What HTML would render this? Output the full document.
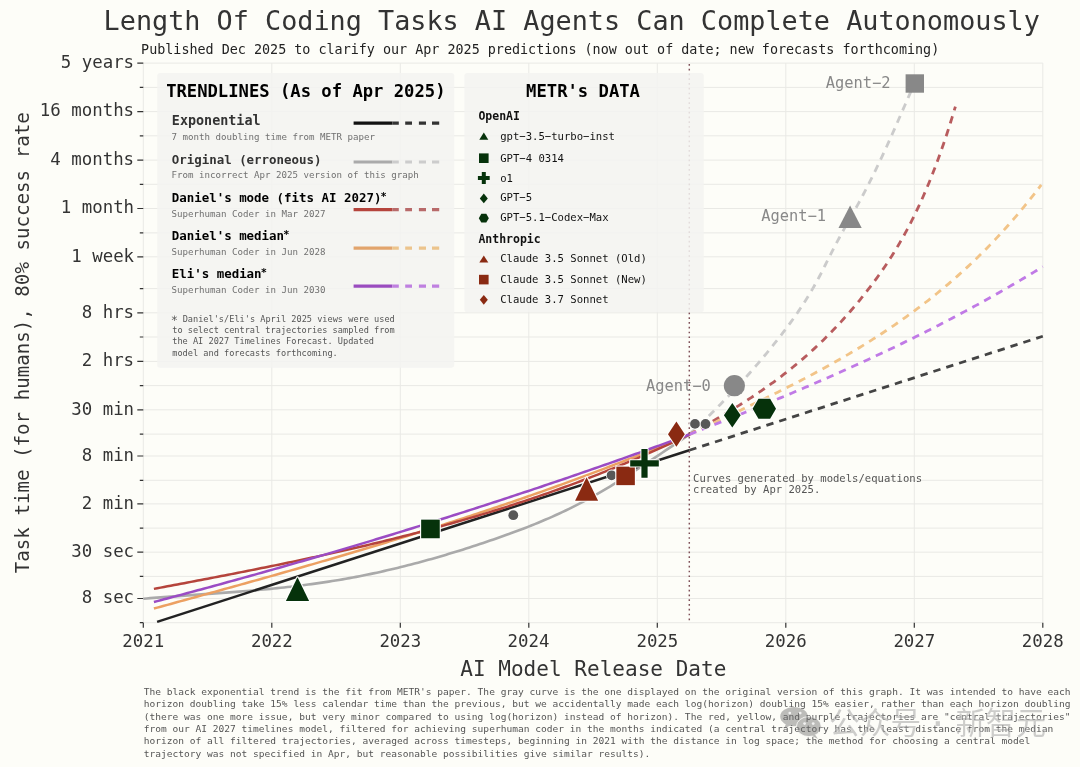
<!DOCTYPE html><html><head><meta charset="utf-8"><style>html,body{margin:0;padding:0;background:#fdfdf8;overflow:hidden}svg{display:block}text{font-family:'DejaVu Sans Mono', 'Liberation Mono', monospace;}</style></head><body>
<svg width="1080" height="767" viewBox="0 0 1080 767">
<rect width="1080" height="767" fill="#fdfdf8"/>
<path d="M143.30 63.10V622.70M271.80 63.10V622.70M400.30 63.10V622.70M528.80 63.10V622.70M657.30 63.10V622.70M785.80 63.10V622.70M914.30 63.10V622.70M1042.80 63.10V622.70M143.30 63.10H1042.80M143.30 111.60H1042.80M143.30 160.10H1042.80M143.30 208.50H1042.80M143.30 256.80H1042.80M143.30 312.80H1042.80M143.30 361.40H1042.80M143.30 409.80H1042.80M143.30 456.00H1042.80M143.30 503.90H1042.80M143.30 552.20H1042.80M143.30 598.50H1042.80M143.30 87.40H1042.80M143.30 135.80H1042.80M143.30 184.30H1042.80M143.30 232.90H1042.80M143.30 288.60H1042.80M143.30 337.00H1042.80M143.30 385.60H1042.80M143.30 434.10H1042.80M143.30 480.30H1042.80M143.30 528.10H1042.80M143.30 576.40H1042.80M143.30 622.70H1042.80" stroke="#e9e9e5" stroke-width="1" fill="none"/>
<path d="M137.30 63.10H143.30M137.30 111.60H143.30M137.30 160.10H143.30M137.30 208.50H143.30M137.30 256.80H143.30M137.30 312.80H143.30M137.30 361.40H143.30M137.30 409.80H143.30M137.30 456.00H143.30M137.30 503.90H143.30M137.30 552.20H143.30M137.30 598.50H143.30M139.80 87.40H143.30M139.80 135.80H143.30M139.80 184.30H143.30M139.80 232.90H143.30M139.80 288.60H143.30M139.80 337.00H143.30M139.80 385.60H143.30M139.80 434.10H143.30M139.80 480.30H143.30M139.80 528.10H143.30M139.80 576.40H143.30M139.80 622.70H143.30M143.30 622.70V627.70M271.80 622.70V627.70M400.30 622.70V627.70M528.80 622.70V627.70M657.30 622.70V627.70M785.80 622.70V627.70M914.30 622.70V627.70M1042.80 622.70V627.70" stroke="#333" stroke-width="1.2" fill="none"/>
<text x="134.10" y="67.90" font-size="17.4" fill="#333" text-anchor="end">5 years</text>
<text x="134.10" y="116.40" font-size="17.4" fill="#333" text-anchor="end">16 months</text>
<text x="134.10" y="164.90" font-size="17.4" fill="#333" text-anchor="end">4 months</text>
<text x="134.10" y="213.30" font-size="17.4" fill="#333" text-anchor="end">1 month</text>
<text x="134.10" y="261.60" font-size="17.4" fill="#333" text-anchor="end">1 week</text>
<text x="134.10" y="317.60" font-size="17.4" fill="#333" text-anchor="end">8 hrs</text>
<text x="134.10" y="366.20" font-size="17.4" fill="#333" text-anchor="end">2 hrs</text>
<text x="134.10" y="414.60" font-size="17.4" fill="#333" text-anchor="end">30 min</text>
<text x="134.10" y="460.80" font-size="17.4" fill="#333" text-anchor="end">8 min</text>
<text x="134.10" y="508.70" font-size="17.4" fill="#333" text-anchor="end">2 min</text>
<text x="134.10" y="557.00" font-size="17.4" fill="#333" text-anchor="end">30 sec</text>
<text x="134.10" y="603.30" font-size="17.4" fill="#333" text-anchor="end">8 sec</text>
<text x="122.29" y="647.00" font-size="17.4" fill="#333">2021</text>
<text x="250.92" y="647.00" font-size="17.4" fill="#333">2022</text>
<text x="379.38" y="647.00" font-size="17.4" fill="#333">2023</text>
<text x="507.62" y="647.00" font-size="17.4" fill="#333">2024</text>
<text x="636.42" y="647.00" font-size="17.4" fill="#333">2025</text>
<text x="764.75" y="647.00" font-size="17.4" fill="#333">2026</text>
<text x="893.38" y="647.00" font-size="17.4" fill="#333">2027</text>
<text x="1021.75" y="647.00" font-size="17.4" fill="#333">2028</text>
<text x="103.60" y="30.00" font-size="26.82" fill="#333">Length Of Coding Tasks AI Agents Can Complete Autonomously</text>
<text x="141.12" y="54.00" font-size="13.4" fill="#222">Published Dec 2025 to clarify our Apr 2025 predictions (now out of date; new forecasts forthcoming)</text>
<text x="460.28" y="675.50" font-size="21.05" fill="#333">AI Model Release Date</text>
<text transform="translate(29.2 342.75) rotate(-90)" font-size="19.15" fill="#333" text-anchor="middle">Task time (for humans), 80% success rate</text>
<path d="M689.30 434.50 L690.70 433.20 L692.10 431.89 L693.50 430.58 L694.90 429.26 L696.30 427.94 L697.70 426.62 L699.10 425.29 L700.51 423.95 L701.91 422.61 L703.31 421.26 L704.71 419.91 L706.11 418.55 L707.51 417.19 L708.91 415.82 L710.31 414.45 L711.71 413.07 L713.11 411.68 L714.51 410.29 L715.91 408.89 L717.31 407.49 L718.71 406.08 L720.11 404.66 L721.51 403.24 L722.92 401.81 L724.32 400.37 L725.72 398.92 L727.12 397.47 L728.52 396.01 L729.92 394.55 L731.32 393.08 L732.72 391.60 L734.12 390.11 L735.52 388.61 L736.92 387.11 L738.32 385.60 L739.72 384.08 L741.12 382.55 L742.52 381.01 L743.92 379.47 L745.33 377.92 L746.73 376.36 L748.13 374.79 L749.53 373.21 L750.93 371.62 L752.33 370.03 L753.73 368.42 L755.13 366.81 L756.53 365.19 L757.93 363.55 L759.33 361.91 L760.73 360.26 L762.13 358.60 L763.53 356.93 L764.93 355.25 L766.33 353.56 L767.74 351.86 L769.14 350.15 L770.54 348.43 L771.94 346.70 L773.34 344.95 L774.74 343.20 L776.14 341.44 L777.54 339.67 L778.94 337.88 L780.34 336.08 L781.74 334.28 L783.14 332.45 L784.54 330.61 L785.94 328.76 L787.34 326.89 L788.74 325.00 L790.15 323.09 L791.55 321.16 L792.95 319.20 L794.35 317.23 L795.75 315.23 L797.15 313.20 L798.55 311.15 L799.95 309.07 L801.35 306.96 L802.75 304.82 L804.15 302.65 L805.55 300.44 L806.95 298.20 L808.35 295.93 L809.75 293.61 L811.15 291.26 L812.56 288.87 L813.96 286.43 L815.36 283.95 L816.76 281.42 L818.16 278.85 L819.56 276.22 L820.96 273.55 L822.36 270.82 L823.76 268.05 L825.16 265.25 L826.56 262.43 L827.96 259.62 L829.36 256.82 L830.76 254.03 L832.16 251.28 L833.56 248.56 L834.97 245.88 L836.37 243.24 L837.77 240.62 L839.17 238.04 L840.57 235.48 L841.97 232.94 L843.37 230.42 L844.77 227.91 L846.17 225.41 L847.57 222.92 L848.97 220.43 L850.37 217.95 L851.77 215.46 L853.17 212.96 L854.57 210.45 L855.97 207.93 L857.38 205.39 L858.78 202.83 L860.18 200.25 L861.58 197.64 L862.98 195.00 L864.38 192.33 L865.78 189.64 L867.18 186.93 L868.58 184.19 L869.98 181.42 L871.38 178.62 L872.78 175.81 L874.18 172.96 L875.58 170.09 L876.98 167.20 L878.38 164.28 L879.79 161.34 L881.19 158.37 L882.59 155.38 L883.99 152.36 L885.39 149.32 L886.79 146.26 L888.19 143.17 L889.59 140.06 L890.99 136.93 L892.39 133.78 L893.79 130.61 L895.19 127.42 L896.59 124.22 L897.99 121.02 L899.39 117.81 L900.79 114.59 L902.20 111.37 L903.60 108.15 L905.00 104.94 L906.40 101.73 L907.80 98.53 L909.20 95.34 L910.60 92.17 L912.00 89.01" stroke="#cbcbcb" stroke-width="2.8" fill="none" stroke-dasharray="7.4,6.1"/>
<path d="M689.30 434.50 L690.97 433.56 L692.65 432.61 L694.32 431.67 L695.99 430.72 L697.67 429.77 L699.34 428.82 L701.02 427.87 L702.69 426.92 L704.36 425.97 L706.04 425.01 L707.71 424.05 L709.38 423.09 L711.06 422.12 L712.73 421.15 L714.40 420.18 L716.08 419.21 L717.75 418.23 L719.42 417.25 L721.10 416.26 L722.77 415.27 L724.45 414.27 L726.12 413.27 L727.79 412.27 L729.47 411.26 L731.14 410.24 L732.81 409.22 L734.49 408.19 L736.16 407.16 L737.83 406.12 L739.51 405.08 L741.18 404.02 L742.85 402.96 L744.53 401.90 L746.20 400.83 L747.88 399.74 L749.55 398.66 L751.22 397.56 L752.90 396.46 L754.57 395.34 L756.24 394.22 L757.92 393.09 L759.59 391.96 L761.26 390.81 L762.94 389.65 L764.61 388.49 L766.28 387.31 L767.96 386.13 L769.63 384.93 L771.31 383.73 L772.98 382.51 L774.65 381.28 L776.33 380.05 L778.00 378.80 L779.67 377.54 L781.35 376.27 L783.02 374.98 L784.69 373.69 L786.37 372.38 L788.04 371.06 L789.72 369.73 L791.39 368.38 L793.06 367.03 L794.74 365.66 L796.41 364.27 L798.08 362.87 L799.76 361.46 L801.43 360.04 L803.10 358.60 L804.78 357.14 L806.45 355.68 L808.12 354.19 L809.80 352.69 L811.47 351.18 L813.15 349.65 L814.82 348.11 L816.49 346.55 L818.17 344.97 L819.84 343.38 L821.51 341.77 L823.19 340.14 L824.86 338.50 L826.53 336.84 L828.21 335.17 L829.88 333.47 L831.55 331.76 L833.23 330.03 L834.90 328.29 L836.58 326.52 L838.25 324.74 L839.92 322.93 L841.60 321.11 L843.27 319.27 L844.94 317.41 L846.62 315.53 L848.29 313.63 L849.96 311.71 L851.64 309.77 L853.31 307.81 L854.98 305.83 L856.66 303.83 L858.33 301.81 L860.01 299.77 L861.68 297.71 L863.35 295.62 L865.03 293.51 L866.70 291.38 L868.37 289.23 L870.05 287.06 L871.72 284.86 L873.39 282.64 L875.07 280.38 L876.74 278.10 L878.42 275.79 L880.09 273.44 L881.76 271.06 L883.44 268.65 L885.11 266.19 L886.78 263.70 L888.46 261.17 L890.13 258.59 L891.80 255.97 L893.48 253.30 L895.15 250.59 L896.82 247.82 L898.50 245.01 L900.17 242.14 L901.85 239.21 L903.52 236.24 L905.19 233.20 L906.87 230.10 L908.54 226.94 L910.21 223.72 L911.89 220.44 L913.56 217.09 L915.23 213.67 L916.91 210.18 L918.58 206.62 L920.25 202.98 L921.93 199.28 L923.60 195.49 L925.28 191.63 L926.95 187.69 L928.62 183.67 L930.30 179.56 L931.97 175.37 L933.64 171.09 L935.32 166.72 L936.99 162.26 L938.66 157.71 L940.34 153.06 L942.01 148.31 L943.68 143.46 L945.36 138.51 L947.03 133.45 L948.71 128.29 L950.38 123.02 L952.05 117.64 L953.73 112.14 L955.40 106.53" stroke="#b85c5e" stroke-width="2.8" fill="none" stroke-dasharray="7.4,6.1"/>
<path d="M689.30 434.50 L691.51 433.45 L693.73 432.39 L695.94 431.34 L698.15 430.29 L700.37 429.24 L702.58 428.19 L704.79 427.14 L707.01 426.09 L709.22 425.05 L711.43 424.00 L713.65 422.95 L715.86 421.91 L718.07 420.86 L720.28 419.82 L722.50 418.77 L724.71 417.73 L726.92 416.68 L729.14 415.64 L731.35 414.59 L733.56 413.54 L735.78 412.49 L737.99 411.44 L740.20 410.39 L742.42 409.34 L744.63 408.28 L746.84 407.22 L749.06 406.17 L751.27 405.11 L753.48 404.04 L755.70 402.98 L757.91 401.91 L760.12 400.84 L762.34 399.76 L764.55 398.69 L766.76 397.61 L768.98 396.53 L771.19 395.44 L773.40 394.35 L775.62 393.26 L777.83 392.16 L780.04 391.06 L782.25 389.95 L784.47 388.84 L786.68 387.73 L788.89 386.61 L791.11 385.48 L793.32 384.36 L795.53 383.22 L797.75 382.08 L799.96 380.94 L802.17 379.79 L804.39 378.63 L806.60 377.47 L808.81 376.30 L811.03 375.13 L813.24 373.95 L815.45 372.76 L817.67 371.57 L819.88 370.37 L822.09 369.17 L824.31 367.95 L826.52 366.73 L828.73 365.51 L830.95 364.27 L833.16 363.03 L835.37 361.78 L837.58 360.52 L839.80 359.25 L842.01 357.98 L844.22 356.70 L846.44 355.40 L848.65 354.10 L850.86 352.80 L853.08 351.48 L855.29 350.15 L857.50 348.82 L859.72 347.47 L861.93 346.12 L864.14 344.75 L866.36 343.38 L868.57 341.99 L870.78 340.60 L873.00 339.19 L875.21 337.78 L877.42 336.35 L879.64 334.92 L881.85 333.47 L884.06 332.01 L886.28 330.54 L888.49 329.06 L890.70 327.57 L892.92 326.07 L895.13 324.55 L897.34 323.02 L899.55 321.48 L901.77 319.93 L903.98 318.37 L906.19 316.79 L908.41 315.20 L910.62 313.60 L912.83 311.99 L915.05 310.36 L917.26 308.71 L919.47 307.06 L921.69 305.38 L923.90 303.70 L926.11 301.99 L928.33 300.28 L930.54 298.54 L932.75 296.79 L934.97 295.03 L937.18 293.24 L939.39 291.44 L941.61 289.62 L943.82 287.79 L946.03 285.94 L948.25 284.06 L950.46 282.17 L952.67 280.27 L954.88 278.34 L957.10 276.39 L959.31 274.42 L961.52 272.43 L963.74 270.43 L965.95 268.40 L968.16 266.35 L970.38 264.28 L972.59 262.18 L974.80 260.07 L977.02 257.93 L979.23 255.77 L981.44 253.59 L983.66 251.38 L985.87 249.15 L988.08 246.90 L990.30 244.62 L992.51 242.32 L994.72 240.00 L996.94 237.64 L999.15 235.27 L1001.36 232.87 L1003.58 230.44 L1005.79 227.98 L1008.00 225.50 L1010.22 222.99 L1012.43 220.46 L1014.64 217.90 L1016.85 215.31 L1019.07 212.69 L1021.28 210.04 L1023.49 207.37 L1025.71 204.66 L1027.92 201.93 L1030.13 199.17 L1032.35 196.37 L1034.56 193.55 L1036.77 190.70 L1038.99 187.81 L1041.20 184.90" stroke="#f2c488" stroke-width="2.8" fill="none" stroke-dasharray="7.4,6.1"/>
<path d="M689.30 434.50 L691.52 433.63 L693.75 432.76 L695.97 431.89 L698.19 431.01 L700.42 430.14 L702.64 429.27 L704.86 428.39 L707.09 427.51 L709.31 426.64 L711.53 425.76 L713.76 424.88 L715.98 424.00 L718.20 423.12 L720.43 422.24 L722.65 421.35 L724.87 420.47 L727.10 419.58 L729.32 418.69 L731.54 417.80 L733.77 416.91 L735.99 416.02 L738.21 415.13 L740.44 414.23 L742.66 413.34 L744.88 412.44 L747.11 411.54 L749.33 410.64 L751.55 409.74 L753.77 408.84 L756.00 407.93 L758.22 407.03 L760.44 406.12 L762.67 405.21 L764.89 404.30 L767.11 403.38 L769.34 402.47 L771.56 401.55 L773.78 400.63 L776.01 399.71 L778.23 398.79 L780.45 397.86 L782.68 396.93 L784.90 396.01 L787.12 395.07 L789.35 394.14 L791.57 393.21 L793.79 392.27 L796.02 391.33 L798.24 390.39 L800.46 389.45 L802.69 388.50 L804.91 387.55 L807.13 386.60 L809.36 385.65 L811.58 384.69 L813.80 383.73 L816.03 382.77 L818.25 381.81 L820.47 380.85 L822.70 379.88 L824.92 378.91 L827.14 377.94 L829.37 376.96 L831.59 375.98 L833.81 375.00 L836.04 374.02 L838.26 373.03 L840.48 372.05 L842.71 371.05 L844.93 370.06 L847.15 369.06 L849.38 368.06 L851.60 367.06 L853.82 366.06 L856.05 365.05 L858.27 364.03 L860.49 363.02 L862.72 362.00 L864.94 360.98 L867.16 359.96 L869.38 358.93 L871.61 357.90 L873.83 356.87 L876.05 355.83 L878.28 354.79 L880.50 353.75 L882.72 352.70 L884.95 351.65 L887.17 350.60 L889.39 349.54 L891.62 348.48 L893.84 347.42 L896.06 346.35 L898.29 345.28 L900.51 344.21 L902.73 343.13 L904.96 342.05 L907.18 340.96 L909.40 339.87 L911.63 338.78 L913.85 337.69 L916.07 336.59 L918.30 335.48 L920.52 334.38 L922.74 333.26 L924.97 332.15 L927.19 331.03 L929.41 329.91 L931.64 328.78 L933.86 327.65 L936.08 326.51 L938.31 325.38 L940.53 324.23 L942.75 323.09 L944.98 321.93 L947.20 320.78 L949.42 319.62 L951.65 318.46 L953.87 317.29 L956.09 316.12 L958.32 314.94 L960.54 313.76 L962.76 312.57 L964.99 311.38 L967.21 310.19 L969.43 308.99 L971.66 307.79 L973.88 306.58 L976.10 305.37 L978.33 304.15 L980.55 302.93 L982.77 301.70 L984.99 300.47 L987.22 299.23 L989.44 297.99 L991.66 296.75 L993.89 295.50 L996.11 294.24 L998.33 292.99 L1000.56 291.72 L1002.78 290.45 L1005.00 289.18 L1007.23 287.90 L1009.45 286.61 L1011.67 285.32 L1013.90 284.03 L1016.12 282.73 L1018.34 281.43 L1020.57 280.12 L1022.79 278.80 L1025.01 277.48 L1027.24 276.16 L1029.46 274.83 L1031.68 273.49 L1033.91 272.15 L1036.13 270.80 L1038.35 269.45 L1040.58 268.09 L1042.80 266.73" stroke="#c07ae6" stroke-width="2.8" fill="none" stroke-dasharray="7.4,6.1"/>
<path d="M689.30 450.27 L1042.80 336.26" stroke="#444" stroke-width="2.8" fill="none" stroke-dasharray="7.4,6.1"/>
<path d="M143.30 598.73 L146.73 598.45 L150.17 598.17 L153.60 597.90 L157.04 597.63 L160.47 597.37 L163.90 597.11 L167.34 596.86 L170.77 596.60 L174.21 596.35 L177.64 596.10 L181.07 595.86 L184.51 595.61 L187.94 595.37 L191.38 595.13 L194.81 594.88 L198.24 594.64 L201.68 594.40 L205.11 594.15 L208.55 593.91 L211.98 593.66 L215.41 593.41 L218.85 593.16 L222.28 592.91 L225.72 592.65 L229.15 592.39 L232.58 592.12 L236.02 591.85 L239.45 591.58 L242.88 591.30 L246.32 591.02 L249.75 590.73 L253.19 590.43 L256.62 590.13 L260.05 589.82 L263.49 589.51 L266.92 589.18 L270.36 588.85 L273.79 588.51 L277.22 588.16 L280.66 587.80 L284.09 587.44 L287.53 587.06 L290.96 586.67 L294.39 586.27 L297.83 585.86 L301.26 585.44 L304.70 585.01 L308.13 584.57 L311.56 584.11 L315.00 583.64 L318.43 583.16 L321.87 582.66 L325.30 582.15 L328.73 581.62 L332.17 581.08 L335.60 580.53 L339.04 579.96 L342.47 579.37 L345.90 578.77 L349.34 578.15 L352.77 577.51 L356.21 576.87 L359.64 576.20 L363.07 575.52 L366.51 574.83 L369.94 574.12 L373.38 573.39 L376.81 572.65 L380.24 571.90 L383.68 571.13 L387.11 570.34 L390.55 569.54 L393.98 568.73 L397.41 567.90 L400.85 567.06 L404.28 566.21 L407.72 565.34 L411.15 564.46 L414.58 563.56 L418.02 562.65 L421.45 561.73 L424.88 560.79 L428.32 559.84 L431.75 558.88 L435.19 557.90 L438.62 556.91 L442.05 555.91 L445.49 554.90 L448.92 553.87 L452.36 552.83 L455.79 551.78 L459.22 550.71 L462.66 549.64 L466.09 548.55 L469.53 547.45 L472.96 546.34 L476.39 545.21 L479.83 544.08 L483.26 542.93 L486.70 541.77 L490.13 540.60 L493.56 539.42 L497.00 538.23 L500.43 537.02 L503.87 535.81 L507.30 534.58 L510.73 533.33 L514.17 532.07 L517.60 530.79 L521.04 529.49 L524.47 528.17 L527.90 526.84 L531.34 525.48 L534.77 524.10 L538.21 522.70 L541.64 521.27 L545.07 519.82 L548.51 518.34 L551.94 516.84 L555.38 515.30 L558.81 513.74 L562.24 512.15 L565.68 510.52 L569.11 508.87 L572.55 507.18 L575.98 505.45 L579.41 503.70 L582.85 501.90 L586.28 500.07 L589.72 498.20 L593.15 496.30 L596.58 494.36 L600.02 492.39 L603.45 490.39 L606.88 488.36 L610.32 486.30 L613.75 484.21 L617.19 482.10 L620.62 479.97 L624.05 477.81 L627.49 475.64 L630.92 473.44 L634.36 471.22 L637.79 468.99 L641.22 466.74 L644.66 464.48 L648.09 462.21 L651.53 459.92 L654.96 457.63 L658.39 455.33 L661.83 453.02 L665.26 450.70 L668.70 448.39 L672.13 446.07 L675.56 443.75 L679.00 441.43 L682.43 439.11 L685.87 436.80 L689.30 434.50" stroke="#aaaaaa" stroke-width="2.6" fill="none"/>
<path d="M157.10 621.90 L689.30 450.27" stroke="#222" stroke-width="2.5" fill="none"/>
<path d="M153.90 608.55 L157.27 607.62 L160.63 606.70 L164.00 605.78 L167.37 604.85 L170.74 603.93 L174.10 603.00 L177.47 602.08 L180.84 601.15 L184.21 600.23 L187.57 599.30 L190.94 598.38 L194.31 597.45 L197.67 596.52 L201.04 595.59 L204.41 594.66 L207.78 593.73 L211.14 592.80 L214.51 591.87 L217.88 590.94 L221.25 590.01 L224.61 589.07 L227.98 588.14 L231.35 587.20 L234.72 586.27 L238.08 585.33 L241.45 584.39 L244.82 583.45 L248.18 582.51 L251.55 581.57 L254.92 580.62 L258.29 579.68 L261.65 578.73 L265.02 577.78 L268.39 576.83 L271.76 575.88 L275.12 574.93 L278.49 573.98 L281.86 573.02 L285.22 572.06 L288.59 571.11 L291.96 570.15 L295.33 569.18 L298.69 568.22 L302.06 567.26 L305.43 566.29 L308.80 565.32 L312.16 564.35 L315.53 563.38 L318.90 562.40 L322.26 561.42 L325.63 560.45 L329.00 559.46 L332.37 558.48 L335.73 557.50 L339.10 556.51 L342.47 555.52 L345.84 554.53 L349.20 553.53 L352.57 552.54 L355.94 551.54 L359.31 550.54 L362.67 549.53 L366.04 548.53 L369.41 547.52 L372.77 546.51 L376.14 545.49 L379.51 544.48 L382.88 543.46 L386.24 542.43 L389.61 541.41 L392.98 540.38 L396.35 539.35 L399.71 538.32 L403.08 537.28 L406.45 536.24 L409.81 535.20 L413.18 534.15 L416.55 533.11 L419.92 532.05 L423.28 531.00 L426.65 529.94 L430.02 528.88 L433.39 527.82 L436.75 526.75 L440.12 525.68 L443.49 524.60 L446.85 523.53 L450.22 522.45 L453.59 521.36 L456.96 520.27 L460.32 519.18 L463.69 518.09 L467.06 516.99 L470.43 515.88 L473.79 514.78 L477.16 513.67 L480.53 512.55 L483.89 511.44 L487.26 510.31 L490.63 509.19 L494.00 508.06 L497.36 506.93 L500.73 505.79 L504.10 504.65 L507.47 503.50 L510.83 502.35 L514.20 501.20 L517.57 500.04 L520.94 498.88 L524.30 497.71 L527.67 496.54 L531.04 495.36 L534.40 494.18 L537.77 493.00 L541.14 491.81 L544.51 490.62 L547.87 489.42 L551.24 488.22 L554.61 487.01 L557.98 485.80 L561.34 484.58 L564.71 483.36 L568.08 482.14 L571.44 480.90 L574.81 479.67 L578.18 478.43 L581.55 477.18 L584.91 475.93 L588.28 474.68 L591.65 473.42 L595.02 472.15 L598.38 470.88 L601.75 469.61 L605.12 468.32 L608.48 467.04 L611.85 465.75 L615.22 464.45 L618.59 463.15 L621.95 461.84 L625.32 460.53 L628.69 459.21 L632.06 457.89 L635.42 456.56 L638.79 455.22 L642.16 453.88 L645.53 452.53 L648.89 451.18 L652.26 449.82 L655.63 448.46 L658.99 447.09 L662.36 445.72 L665.73 444.34 L669.10 442.95 L672.46 441.56 L675.83 440.16 L679.20 438.75 L682.57 437.34 L685.93 435.92 L689.30 434.50" stroke="#eca062" stroke-width="2.5" fill="none"/>
<path d="M153.90 588.89 L157.27 588.25 L160.63 587.62 L164.00 586.98 L167.37 586.35 L170.74 585.71 L174.10 585.08 L177.47 584.44 L180.84 583.80 L184.21 583.17 L187.57 582.53 L190.94 581.89 L194.31 581.25 L197.67 580.60 L201.04 579.96 L204.41 579.32 L207.78 578.67 L211.14 578.02 L214.51 577.38 L217.88 576.73 L221.25 576.07 L224.61 575.42 L227.98 574.76 L231.35 574.11 L234.72 573.45 L238.08 572.79 L241.45 572.12 L244.82 571.46 L248.18 570.79 L251.55 570.12 L254.92 569.45 L258.29 568.77 L261.65 568.10 L265.02 567.42 L268.39 566.73 L271.76 566.05 L275.12 565.36 L278.49 564.67 L281.86 563.97 L285.22 563.28 L288.59 562.58 L291.96 561.87 L295.33 561.17 L298.69 560.46 L302.06 559.74 L305.43 559.02 L308.80 558.30 L312.16 557.58 L315.53 556.85 L318.90 556.12 L322.26 555.38 L325.63 554.64 L329.00 553.90 L332.37 553.15 L335.73 552.39 L339.10 551.64 L342.47 550.88 L345.84 550.11 L349.20 549.34 L352.57 548.56 L355.94 547.78 L359.31 547.00 L362.67 546.21 L366.04 545.41 L369.41 544.62 L372.77 543.81 L376.14 543.00 L379.51 542.19 L382.88 541.37 L386.24 540.54 L389.61 539.71 L392.98 538.87 L396.35 538.03 L399.71 537.18 L403.08 536.33 L406.45 535.47 L409.81 534.60 L413.18 533.73 L416.55 532.85 L419.92 531.97 L423.28 531.08 L426.65 530.18 L430.02 529.28 L433.39 528.37 L436.75 527.45 L440.12 526.53 L443.49 525.60 L446.85 524.67 L450.22 523.72 L453.59 522.77 L456.96 521.82 L460.32 520.85 L463.69 519.88 L467.06 518.90 L470.43 517.92 L473.79 516.93 L477.16 515.93 L480.53 514.92 L483.89 513.90 L487.26 512.88 L490.63 511.85 L494.00 510.81 L497.36 509.76 L500.73 508.71 L504.10 507.65 L507.47 506.57 L510.83 505.50 L514.20 504.41 L517.57 503.31 L520.94 502.21 L524.30 501.09 L527.67 499.97 L531.04 498.84 L534.40 497.70 L537.77 496.56 L541.14 495.40 L544.51 494.23 L547.87 493.06 L551.24 491.87 L554.61 490.68 L557.98 489.48 L561.34 488.27 L564.71 487.05 L568.08 485.81 L571.44 484.57 L574.81 483.32 L578.18 482.06 L581.55 480.79 L584.91 479.51 L588.28 478.22 L591.65 476.92 L595.02 475.61 L598.38 474.29 L601.75 472.96 L605.12 471.62 L608.48 470.27 L611.85 468.91 L615.22 467.54 L618.59 466.15 L621.95 464.76 L625.32 463.36 L628.69 461.94 L632.06 460.51 L635.42 459.07 L638.79 457.63 L642.16 456.17 L645.53 454.69 L648.89 453.21 L652.26 451.72 L655.63 450.21 L658.99 448.69 L662.36 447.16 L665.73 445.62 L669.10 444.07 L672.46 442.51 L675.83 440.93 L679.20 439.34 L682.57 437.74 L685.93 436.13 L689.30 434.50" stroke="#b5443c" stroke-width="2.5" fill="none"/>
<path d="M153.90 601.98 L157.27 601.09 L160.63 600.21 L164.00 599.32 L167.37 598.43 L170.74 597.54 L174.10 596.64 L177.47 595.75 L180.84 594.85 L184.21 593.95 L187.57 593.05 L190.94 592.14 L194.31 591.24 L197.67 590.33 L201.04 589.42 L204.41 588.51 L207.78 587.59 L211.14 586.68 L214.51 585.76 L217.88 584.84 L221.25 583.92 L224.61 583.00 L227.98 582.07 L231.35 581.14 L234.72 580.21 L238.08 579.28 L241.45 578.35 L244.82 577.41 L248.18 576.48 L251.55 575.54 L254.92 574.60 L258.29 573.65 L261.65 572.71 L265.02 571.76 L268.39 570.81 L271.76 569.86 L275.12 568.90 L278.49 567.95 L281.86 566.99 L285.22 566.03 L288.59 565.07 L291.96 564.10 L295.33 563.14 L298.69 562.17 L302.06 561.20 L305.43 560.23 L308.80 559.25 L312.16 558.28 L315.53 557.30 L318.90 556.32 L322.26 555.33 L325.63 554.35 L329.00 553.36 L332.37 552.37 L335.73 551.38 L339.10 550.39 L342.47 549.39 L345.84 548.39 L349.20 547.39 L352.57 546.39 L355.94 545.39 L359.31 544.38 L362.67 543.37 L366.04 542.36 L369.41 541.35 L372.77 540.33 L376.14 539.32 L379.51 538.30 L382.88 537.27 L386.24 536.25 L389.61 535.22 L392.98 534.20 L396.35 533.16 L399.71 532.13 L403.08 531.10 L406.45 530.06 L409.81 529.02 L413.18 527.98 L416.55 526.93 L419.92 525.89 L423.28 524.84 L426.65 523.79 L430.02 522.74 L433.39 521.68 L436.75 520.62 L440.12 519.56 L443.49 518.50 L446.85 517.44 L450.22 516.37 L453.59 515.30 L456.96 514.23 L460.32 513.16 L463.69 512.08 L467.06 511.00 L470.43 509.92 L473.79 508.84 L477.16 507.75 L480.53 506.67 L483.89 505.58 L487.26 504.48 L490.63 503.39 L494.00 502.29 L497.36 501.19 L500.73 500.09 L504.10 498.99 L507.47 497.88 L510.83 496.77 L514.20 495.66 L517.57 494.55 L520.94 493.43 L524.30 492.31 L527.67 491.19 L531.04 490.07 L534.40 488.94 L537.77 487.82 L541.14 486.69 L544.51 485.55 L547.87 484.42 L551.24 483.28 L554.61 482.14 L557.98 481.00 L561.34 479.85 L564.71 478.71 L568.08 477.56 L571.44 476.41 L574.81 475.25 L578.18 474.09 L581.55 472.93 L584.91 471.77 L588.28 470.61 L591.65 469.44 L595.02 468.27 L598.38 467.10 L601.75 465.92 L605.12 464.75 L608.48 463.57 L611.85 462.39 L615.22 461.20 L618.59 460.01 L621.95 458.83 L625.32 457.63 L628.69 456.44 L632.06 455.24 L635.42 454.04 L638.79 452.84 L642.16 451.63 L645.53 450.43 L648.89 449.22 L652.26 448.01 L655.63 446.79 L658.99 445.57 L662.36 444.35 L665.73 443.13 L669.10 441.90 L672.46 440.68 L675.83 439.45 L679.20 438.21 L682.57 436.98 L685.93 435.74 L689.30 434.50" stroke="#9b4cc4" stroke-width="2.5" fill="none"/>
<path d="M689.3 63.95V621.7" stroke="#7f5058" stroke-width="1.45" stroke-dasharray="1.7,3.08" fill="none"/>
<circle cx="513.3" cy="515.2" r="4.9" fill="#585858" stroke="#fff" stroke-width="1.6" paint-order="stroke" stroke-linejoin="round"/>
<circle cx="611.6" cy="475.3" r="4.9" fill="#585858" stroke="#fff" stroke-width="1.6" paint-order="stroke" stroke-linejoin="round"/>
<circle cx="695.0" cy="423.9" r="4.9" fill="#585858" stroke="#fff" stroke-width="1.6" paint-order="stroke" stroke-linejoin="round"/>
<circle cx="705.5" cy="424.0" r="4.9" fill="#585858" stroke="#fff" stroke-width="1.6" paint-order="stroke" stroke-linejoin="round"/>
<path d="M297.50 577.30L309.10 601.10L285.90 601.10Z" fill="#06320b" stroke="#fff" stroke-width="2.2" paint-order="stroke" stroke-linejoin="round"/>
<rect x="421.15" y="519.65" width="18.6" height="18.6" fill="#06320b" stroke="#fff" stroke-width="2.2" paint-order="stroke" stroke-linejoin="round"/>
<path d="M586.60 477.30L598.10 500.70L575.10 500.70Z" fill="#8a2a12" stroke="#fff" stroke-width="2.2" paint-order="stroke" stroke-linejoin="round"/>
<rect x="616.35" y="466.65" width="18.5" height="18.5" fill="#8a2a12" stroke="#fff" stroke-width="2.2" paint-order="stroke" stroke-linejoin="round"/>
<path d="M641.40 449.10H647.60V460.30H658.80V466.50H647.60V477.70H641.40V466.50H630.20V460.30H641.40Z" fill="#06320b" stroke="#fff" stroke-width="2.0" paint-order="stroke" stroke-linejoin="round"/>
<path d="M676.40 421.55L684.80 434.20L676.40 446.85L668.00 434.20Z" fill="#8a2a12" stroke="#fff" stroke-width="2.0" paint-order="stroke" stroke-linejoin="round"/>
<path d="M732.30 402.90L740.70 415.20L732.30 427.50L723.90 415.20Z" fill="#06320b" stroke="#fff" stroke-width="2.0" paint-order="stroke" stroke-linejoin="round"/>
<path d="M776.00 408.70L770.15 418.70L758.45 418.70L752.60 408.70L758.45 398.70L770.15 398.70Z" fill="#06320b" stroke="#fff" stroke-width="2.0" paint-order="stroke" stroke-linejoin="round"/>
<circle cx="734.4" cy="385.7" r="10.6" fill="#888888" stroke="none" stroke-width="0" paint-order="stroke" stroke-linejoin="round"/>
<path d="M850.10 205.60L861.70 227.90L838.50 227.90Z" fill="#888888" stroke="none" stroke-width="0" paint-order="stroke" stroke-linejoin="round"/>
<rect x="905.60" y="74.30" width="18.4" height="18.4" fill="#888888" stroke="none" stroke-width="0" paint-order="stroke" stroke-linejoin="round"/>
<text x="645.89" y="390.80" font-size="15.4" fill="#888888">Agent−0</text>
<text x="761.19" y="221.20" font-size="15.4" fill="#888888">Agent−1</text>
<text x="825.69" y="88.20" font-size="15.4" fill="#888888">Agent−2</text>
<text x="693.11" y="481.90" font-size="10.57" fill="#555">Curves generated by models/equations</text>
<text x="693.11" y="492.80" font-size="10.57" fill="#555">created by Apr 2025.</text>
<rect x="157.2" y="72.9" width="297" height="294.9" rx="3" fill="#f3f3f1" fill-opacity="0.86"/>
<text x="166.13" y="96.70" font-size="17.2" fill="#000" font-weight="bold">TRENDLINES (As of Apr 2025)</text>
<text x="171.83" y="125.00" font-size="13.4" fill="#333" font-weight="bold">Exponential</text>
<text x="171.61" y="139.80" font-size="9.15" fill="#707070">7 month doubling time from METR paper</text>
<path d="M353.6 123.2H392.3" stroke="#111" stroke-width="3.2"/>
<path d="M392.3 123.2H398.8M405.2 123.2H412M418.9 123.2H426M432 123.2H439.2" stroke="#333" stroke-width="3.2"/>
<text x="171.74" y="164.00" font-size="12.45" fill="#333" font-weight="bold">Original (erroneous)</text>
<text x="171.61" y="177.90" font-size="9.15" fill="#707070">From incorrect Apr 2025 version of this graph</text>
<path d="M353.6 162H392.3" stroke="#aaaaaa" stroke-width="3.2"/>
<path d="M392.3 162H398.8M405.2 162H412M418.9 162H426M432 162H439.2" stroke="#cccccc" stroke-width="3.2"/>
<text x="171.74" y="201.8" font-size="12.45" font-weight="bold" fill="#000">Daniel&#x27;s mode (fits AI 2027)<tspan font-size="10.3" dx="-0.9" dy="-2.0">*</tspan></text>
<text x="171.61" y="216.80" font-size="9.15" fill="#707070">Superhuman Coder in Mar 2027</text>
<path d="M353.6 209.6H392.3" stroke="#b5443c" stroke-width="3.2"/>
<path d="M392.3 209.6H398.8M405.2 209.6H412M418.9 209.6H426M432 209.6H439.2" stroke="#b86a6a" stroke-width="3.2"/>
<text x="171.74" y="240.2" font-size="12.45" font-weight="bold" fill="#000">Daniel&#x27;s median<tspan font-size="10.3" dx="-0.9" dy="-2.0">*</tspan></text>
<text x="171.61" y="254.70" font-size="9.15" fill="#707070">Superhuman Coder in Jun 2028</text>
<path d="M353.6 248.1H392.3" stroke="#e2a46c" stroke-width="3.2"/>
<path d="M392.3 248.1H398.8M405.2 248.1H412M418.9 248.1H426M432 248.1H439.2" stroke="#ecc48c" stroke-width="3.2"/>
<text x="171.74" y="278.3" font-size="12.45" font-weight="bold" fill="#000">Eli&#x27;s median<tspan font-size="10.3" dx="-0.9" dy="-2.0">*</tspan></text>
<text x="171.61" y="292.60" font-size="9.15" fill="#707070">Superhuman Coder in Jun 2030</text>
<path d="M353.6 286.2H392.3" stroke="#9a4cbf" stroke-width="3.2"/>
<path d="M392.3 286.2H398.8M405.2 286.2H412M418.9 286.2H426M432 286.2H439.2" stroke="#bf80e0" stroke-width="3.2"/>
<text x="172.24" y="321.7" font-size="8.61" fill="#555"><tspan font-size="12" dx="-1.4" dy="0.4">∗</tspan><tspan dx="-0.6" dy="-0.4"> Daniel&#x27;s/Eli&#x27;s April 2025 views were used</tspan></text>
<text x="172.24" y="332.97" font-size="8.61" fill="#555">to select central trajectories sampled from</text>
<text x="172.24" y="344.24" font-size="8.61" fill="#555">the AI 2027 Timelines Forecast. Updated</text>
<text x="172.24" y="355.51" font-size="8.61" fill="#555">model and forecasts forthcoming.</text>
<rect x="464.4" y="72.9" width="239.4" height="239.4" rx="3" fill="#f3f3f1" fill-opacity="0.86"/>
<text x="526.10" y="96.90" font-size="17.2" fill="#000" font-weight="bold">METR&#x27;s DATA</text>
<text x="478.38" y="120.40" font-size="11.5" fill="#111" font-weight="bold">OpenAI</text>
<text x="478.38" y="243.00" font-size="11.5" fill="#111" font-weight="bold">Anthropic</text>
<text x="500.17" y="139.60" font-size="10.6" fill="#111">gpt−3.5−turbo−inst</text>
<path d="M483.80 132.50L488.30 139.70L479.30 139.70Z" fill="#06320b" stroke="none" stroke-width="0" paint-order="stroke" stroke-linejoin="round"/>
<text x="500.17" y="161.50" font-size="10.6" fill="#111">GPT−4 0314</text>
<rect x="479.00" y="153.40" width="9.6" height="9.6" fill="#06320b" stroke="none" stroke-width="0" paint-order="stroke" stroke-linejoin="round"/>
<text x="500.17" y="181.70" font-size="10.6" fill="#111">o1</text>
<path d="M481.80 172.10H485.80V176.00H489.70V180.00H485.80V183.90H481.80V180.00H477.90V176.00H481.80Z" fill="#06320b" stroke="none" stroke-width="0" paint-order="stroke" stroke-linejoin="round"/>
<text x="500.17" y="201.20" font-size="10.6" fill="#111">GPT−5</text>
<path d="M483.80 193.50L487.80 198.40L483.80 203.30L479.80 198.40Z" fill="#06320b" stroke="none" stroke-width="0" paint-order="stroke" stroke-linejoin="round"/>
<text x="500.17" y="220.90" font-size="10.6" fill="#111">GPT−5.1−Codex−Max</text>
<path d="M488.80 218.20L486.30 222.53L481.30 222.53L478.80 218.20L481.30 213.87L486.30 213.87Z" fill="#06320b" stroke="none" stroke-width="0" paint-order="stroke" stroke-linejoin="round"/>
<text x="500.17" y="262.10" font-size="10.6" fill="#111">Claude 3.5 Sonnet (Old)</text>
<path d="M483.80 255.40L488.30 262.60L479.30 262.60Z" fill="#8a2a12" stroke="none" stroke-width="0" paint-order="stroke" stroke-linejoin="round"/>
<text x="500.17" y="282.90" font-size="10.6" fill="#111">Claude 3.5 Sonnet (New)</text>
<rect x="479.00" y="274.80" width="9.6" height="9.6" fill="#8a2a12" stroke="none" stroke-width="0" paint-order="stroke" stroke-linejoin="round"/>
<text x="500.17" y="302.90" font-size="10.6" fill="#111">Claude 3.7 Sonnet</text>
<path d="M483.80 294.90L487.80 299.80L483.80 304.70L479.80 299.80Z" fill="#8a2a12" stroke="none" stroke-width="0" paint-order="stroke" stroke-linejoin="round"/>
<text x="143.71" y="695.10" font-size="9.57" fill="#555">The black exponential trend is the fit from METR&#x27;s paper. The gray curve is the one displayed on the original version of this graph. It was intended to have each</text>
<text x="143.71" y="707.42" font-size="9.57" fill="#555">horizon doubling take 15% less calendar time than the previous, but we accidentally made each log(horizon) doubling 15% easier, rather than each horizon doubling</text>
<text x="143.71" y="719.74" font-size="9.57" fill="#555">(there was one more issue, but very minor compared to using log(horizon) instead of horizon). The red, yellow, and purple trajectories are &quot;central trajectories&quot;</text>
<text x="143.71" y="732.06" font-size="9.57" fill="#555">from our AI 2027 timelines model, filtered for achieving superhuman coder in the months indicated (a central trajectory has the least distance from the median</text>
<text x="143.71" y="744.38" font-size="9.57" fill="#555">horizon of all filtered trajectories, averaged across timesteps, beginning in 2021 with the distance in log space; the method for choosing a central model</text>
<text x="143.71" y="756.70" font-size="9.57" fill="#555">trajectory was not specified in Apr, but reasonable possibilities give similar results).</text>
<g opacity="0.45">
<ellipse cx="794" cy="716.6" rx="13.8" ry="9.6" fill="#6e6e6e"/>
<ellipse cx="808.8" cy="726.6" rx="12.4" ry="10" fill="#6e6e6e" stroke="#fff" stroke-width="0.8"/>
<path d="M786 723.5 L784 729 L790 725.5Z" fill="#6e6e6e"/>
<path d="M815 734.5 L818 739 L812 736Z" fill="#6e6e6e"/>
</g>
<circle cx="789.8" cy="713.1" r="1.4" fill="#fff" fill-opacity="0.8"/>
<circle cx="800.2" cy="713.1" r="1.4" fill="#fff" fill-opacity="0.8"/>
<circle cx="804.6" cy="723.6" r="1.4" fill="#fff" fill-opacity="0.8"/>
<circle cx="813.2" cy="723.6" r="1.4" fill="#fff" fill-opacity="0.8"/>
<text x="829" y="734" font-size="30.8" style="font-family:'Liberation Sans','Noto Sans CJK SC','WenQuanYi Zen Hei',sans-serif" fill="#8a8a8a" fill-opacity="0.42" stroke="#fff" stroke-opacity="0.35" stroke-width="1.4" paint-order="stroke">公众号</text>
<text x="930.4" y="735.8" font-size="44" style="font-family:'Liberation Sans','Noto Sans CJK SC','WenQuanYi Zen Hei',sans-serif" fill="#8a8a8a" fill-opacity="0.42" stroke="#fff" stroke-opacity="0.35" stroke-width="1.4" paint-order="stroke">·</text>
<text x="955.5" y="734" font-size="30.2" style="font-family:'Liberation Sans','Noto Sans CJK SC','WenQuanYi Zen Hei',sans-serif" fill="#8a8a8a" fill-opacity="0.42" stroke="#fff" stroke-opacity="0.35" stroke-width="1.4" paint-order="stroke">新智元</text>
</svg></body></html>
